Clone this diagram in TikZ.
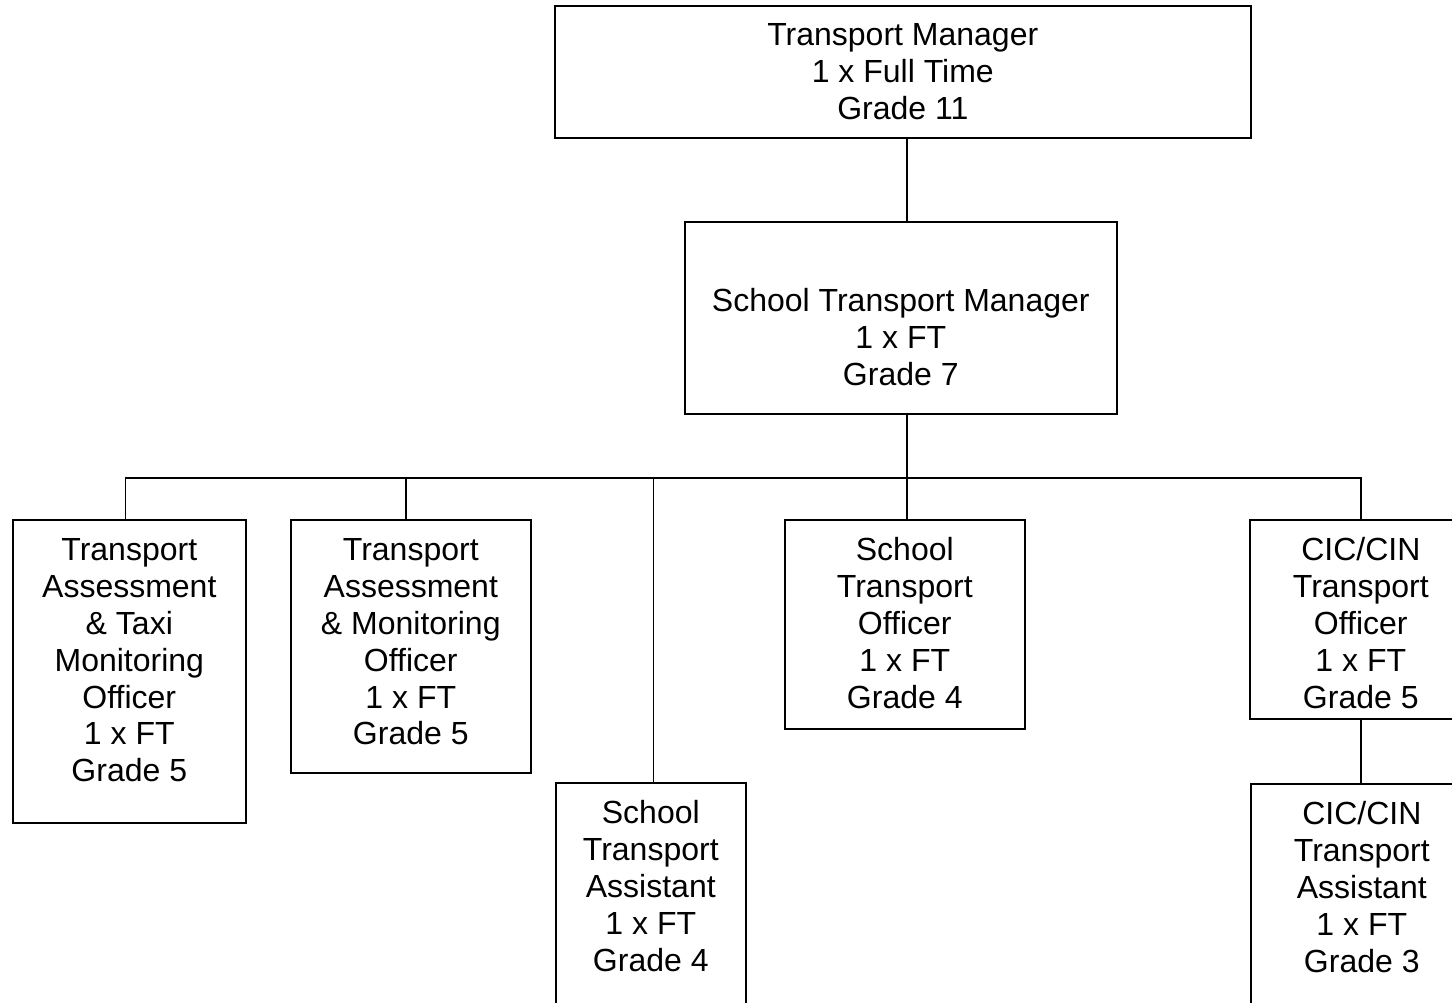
\documentclass[tikz,border=0pt]{standalone}
\usepackage{fontspec}
\setmainfont{Liberation Sans}

% one pixel of the chart
\newlength{\pxunit}
\setlength{\pxunit}{0.375pt}
% box of given width, height, first-line drop and text (all in pixels)
\newcommand{\postbox}[4]{\parbox[c][#2\pxunit][t]{#1\pxunit}{\centering\rule{0pt}{#3\pxunit}#4}}

\begin{document}
\begin{tikzpicture}[x=0.375pt, y=-0.375pt,
    post/.style={draw, line width=0.6pt, inner sep=0pt, anchor=north west,
      font=\fontsize{12pt}{13.8pt}\selectfont},
    link/.style={line width=0.6pt}]

  \useasboundingbox (0,0) rectangle (1452,1003);

  % Manager posts
  \node[post] (TM) at (554,5) {\postbox{696}{132}{40}{Transport Manager\\1 x Full Time\\Grade 11}};
  \node[post] (STM) at (684,221) {\postbox{432}{192}{90}{School Transport Manager\\1 x FT\\Grade 7}};

  % Officer posts
  \node[post] (TAT) at (12,519) {\postbox{233}{303}{41}{Transport\\Assessment\\\& Taxi\\Monitoring\\Officer\\1 x FT\\Grade 5}};
  \node[post] (TAM) at (290,519) {\postbox{240}{253}{41}{Transport\\Assessment\\\& Monitoring\\Officer\\1 x FT\\Grade 5}};
  \node[post] (STA) at (555,782) {\postbox{190}{235}{41}{School\\Transport\\Assistant\\1 x FT\\Grade 4}};
  \node[post] (STO) at (784,519) {\postbox{240}{209}{41}{School\\Transport\\Officer\\1 x FT\\Grade 4}};
  \node[post] (CTO) at (1249,519) {\postbox{222}{199}{41}{CIC/CIN\\Transport\\Officer\\1 x FT\\Grade 5}};
  \node[post] (CTA) at (1250,783) {\postbox{222}{235}{41}{CIC/CIN\\Transport\\Assistant\\1 x FT\\Grade 3}};

  % Lines of report
  \coordinate (bus) at (907,478);
  \coordinate (dropA) at ([xshift=-1.4pt]TAT.north);
  \coordinate (dropB) at ([xshift=-1.9pt]TAM.north);
  \coordinate (dropC) at ([xshift=1pt]STA.north);
  \draw[link] (bus |- TM.south) -- (bus |- STM.north);
  \draw[link] (bus |- STM.south) -- (bus |- STO.north);
  \draw[link] (dropA) |- (bus) -| (CTO.north);
  \draw[link] (dropB) -- (dropB |- bus);
  \draw[link] (dropC) -- (dropC |- bus);
  \draw[link] (CTO.south) -- (CTO.south |- CTA.north);
\end{tikzpicture}
\end{document}
